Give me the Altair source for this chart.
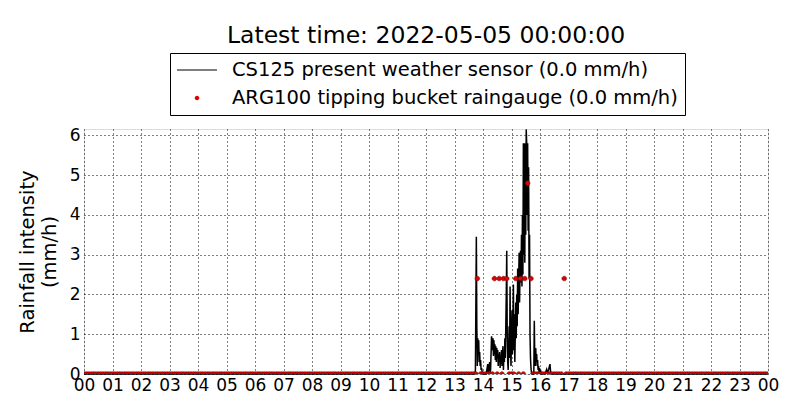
import altair as alt
import pandas as pd

TITLE = "Latest time: 2022-05-05 00:00:00"
CS_NAME = "CS125 present weather sensor (0.0 mm/h)"
ARG_NAME = "ARG100 tipping bucket raingauge (0.0 mm/h)"

# CS125 present weather sensor: minute of day, intensity (mm/h)
cs_minutes = [0, 823, 824, 826, 827, 828, 829, 830, 831, 832, 833, 834, 835, 836, 837, 839,
              847, 848, 850, 851, 853, 854, 855, 856, 858, 859, 860, 861, 862, 863, 864, 865,
              866, 867, 868, 869, 870, 871, 872, 873, 874, 875, 876, 877, 878, 879, 880, 881,
              882, 883, 884, 885, 886, 887, 888, 889, 890, 891, 892, 893, 894, 895, 896, 897,
              898, 899, 900, 901, 902, 903, 904, 905, 906, 907, 908, 909, 910, 911, 912, 913,
              914, 915, 916, 917, 918, 919, 920, 921, 922, 923, 924, 925, 926, 927, 928, 929,
              930, 931, 932, 933, 934, 935, 936, 937, 938, 939, 940, 941, 942, 943, 947, 948,
              949, 950, 951, 952, 953, 954, 955, 956, 957, 958, 959, 960, 961, 963, 970, 972,
              974, 976, 978, 980, 981, 982, 983, 1440]
cs_values = [0, 0, 0.1, 3.45, 1.2, 0.2, 0.9, 0.6, 0.85, 0.3, 0.55, 0.2, 0.35, 0.1, 0.15, 0,
             0, 0.1, 0.25, 0.05, 0.2, 0.3, 0.05, 0.1, 0.95, 0.8, 0.6, 0.9, 0.45, 0.85, 0.5, 0.75,
             0.35, 0.7, 0.3, 0.65, 0.4, 0.6, 0.2, 0.5, 0.3, 0.55, 0.15, 0.45, 0.25, 0.6, 0.2, 0.45,
             0.7, 0.1, 0.5, 0.3, 0.9, 0.4, 1.2, 2.0, 3.1, 1.0, 0.3, 0.1, 0.6, 1.2, 0.4, 2.2,
             0.6, 0.2, 1.0, 1.6, 0.5, 1.3, 2.25, 0.6, 1.5, 0.3, 1.0, 1.8, 0.9, 2.0, 1.2, 2.65,
             1.5, 2.2, 3.05, 1.8, 2.6, 3.1, 2.3, 3.5, 2.2, 4.0, 2.5, 5.8, 3.0, 5.8, 2.8, 5.8,
             3.5, 6.15, 5.8, 4.0, 5.8, 3.6, 5.2, 2.4, 3.5, 1.0, 0.4, 0.15, 0.05, 0, 0, 1.34,
             0.4, 0.2, 0.65, 0.3, 0.5, 0.2, 0.35, 0.1, 0.2, 0.05, 0.15, 0.05, 0.1, 0, 0, 0.05,
             0.12, 0.03, 0.1, 0.2, 0.25, 0.1, 0, 0]

# ARG100 tipping bucket: minutes with tips and their intensity (mm/h)
tip_minutes = [828, 864, 874, 883, 890, 909, 919, 928, 934, 941, 1011]
tip_values = [2.4, 2.4, 2.4, 2.4, 2.4, 2.4, 2.4, 2.4, 4.8, 2.4, 2.4]
# 5-minute samples with zero intensity
zero_minutes = [m for m in range(0, 1441, 5) if all(abs(m - t) > 2 for t in tip_minutes)]

hour_ticks = list(range(0, 25))
y_ticks = [0, 1, 2, 3, 4, 5, 6]

cs_df = pd.DataFrame({"minute": cs_minutes, "value": cs_values})
arg_df = pd.DataFrame({
    "minute": tip_minutes + zero_minutes,
    "value": tip_values + [0.0] * len(zero_minutes),
})
arg_df["series"] = ARG_NAME

FONT = "DejaVu Sans"

x_axis = alt.Axis(values=hour_ticks, title=None,
                  labelExpr="(datum.value % 24 < 10 ? '0' : '') + (datum.value % 24)",
                  labelFont=FONT, labelFontSize=17, labelColor="black",
                  labelPadding=3, ticks=False, domain=False, labelFlush=False,
                  labelOverlap=False, labelSeparation=0,
                  grid=True, gridColor="black", gridDash=[1, 3], gridWidth=1,
                  gridOpacity=1)
y_axis = alt.Axis(values=y_ticks, format="d",
                  title=["Rainfall intensity", "(mm/h)"],
                  titleFont=FONT, titleFontSize=19.5, titleFontWeight="normal",
                  titleColor="black", titlePadding=10,
                  labelFont=FONT, labelFontSize=17, labelColor="black",
                  labelPadding=4, ticks=False, domain=False, labelOverlap=False,
                  grid=True, gridColor="black", gridDash=[1, 3], gridWidth=1,
                  gridOpacity=1)
x_scale = alt.Scale(domain=[0, 24], nice=False, zero=False)
y_scale = alt.Scale(domain=[0, 6.16], nice=False)

line = alt.Chart(cs_df).transform_calculate(hour="datum.minute / 60").mark_line(
    color="black", strokeWidth=1.5, interpolate="linear"
).encode(x=alt.X("hour:Q", scale=x_scale, axis=x_axis),
         y=alt.Y("value:Q", scale=y_scale, axis=y_axis))

dot_path = "M0,-0.23A0.23,0.23 0 1,1 0,0.23A0.23,0.23 0 1,1 0,-0.23Z"
bar_path = "M-2,-0.05H2V0.05H-2Z"

legend = alt.Legend(orient="none", legendX=86, legendY=-76,
                    direction="vertical", title=None,
                    strokeColor="black", fillColor="white", padding=7,
                    labelFont=FONT, labelFontSize=19.5, labelColor="black", labelLimit=800,
                    symbolSize=400, symbolStrokeWidth=0, symbolOffset=10, labelOffset=25,
                    rowPadding=8, cornerRadius=0, symbolOpacity=1)

points = alt.Chart(arg_df).transform_calculate(hour="datum.minute / 60").mark_point(
    filled=True, size=400, opacity=1, clip=True, stroke="#7a0000", strokeWidth=0.6
).encode(
    x=alt.X("hour:Q", scale=x_scale, axis=x_axis),
    y=alt.Y("value:Q", scale=y_scale, axis=y_axis),
    color=alt.Color("series:N",
                    scale=alt.Scale(domain=[CS_NAME, ARG_NAME], range=["black", "#e00000"]),
                    legend=legend),
    shape=alt.Shape("series:N",
                    scale=alt.Scale(domain=[CS_NAME, ARG_NAME], range=[bar_path, dot_path]),
                    legend=legend),
)

chart = alt.layer(line, points).properties(
    width=684, height=245,
    title=alt.TitleParams(TITLE, font=FONT, fontSize=23.5, fontWeight="normal",
                          color="black", anchor="middle", offset=5),
    autosize=alt.AutoSizeParams(type="none"),
    padding={"left": 76, "top": 121, "right": 24, "bottom": 30},
).configure_view(stroke="black", strokeWidth=1).configure(background="white")

chart.save("out.html", embed_options={"renderer": "svg", "actions": False})
